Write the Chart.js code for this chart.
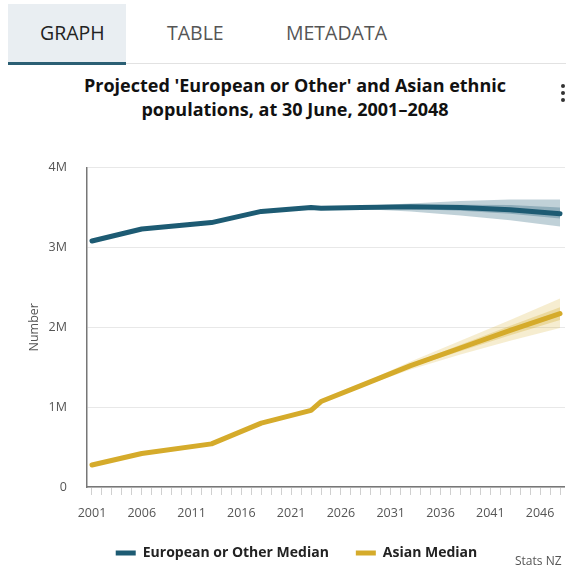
<!DOCTYPE html>
<html>
<head>
<meta charset="utf-8">
<script src="https://cdn.jsdelivr.net/npm/chart.js@4"></script>
<style>
  html, body { margin: 0; padding: 0; background: #fff; overflow: hidden; }
  body { width: 566px; height: 568px; position: relative; font-family: "Open Sans", sans-serif; }
  .tab { position: absolute; top: 4px; height: 58px; line-height: 58px; font-size: 19.5px; color: #555; }
  .tab.active { left: 8px; width: 86px; padding-left: 32px; background: #e9eef2; color: #222; border-bottom: 3px solid #2b5f74; }
  .sep { position: absolute; left: 126px; right: 0; top: 63px; height: 1px; background: #e2e2e2; }
  h1 { position: absolute; top: 73px; left: 0; width: 566px; margin: 0; text-align: center;
       font-size: 18px; font-weight: bold; line-height: 24px; color: #111; padding-left: 24px; box-sizing: border-box; }
  .dot { position: absolute; left: 561px; width: 4px; height: 4px; border-radius: 2px; background: #333; }
  #wrap { position: absolute; left: 22px; top: 140px; width: 549px; height: 430px; }
  .src { position: absolute; left: 515px; top: 552px; font-size: 12px; color: #555; white-space: nowrap; }
</style>
</head>
<body>
<div class="tab active">GRAPH</div>
<div class="tab" style="left:167px">TABLE</div>
<div class="tab" style="left:286px">METADATA</div>
<div class="sep"></div>
<h1>Projected 'European or Other' and Asian ethnic<br>populations, at 30 June, 2001–2048</h1>
<div class="dot" style="top:84px"></div>
<div class="dot" style="top:91px"></div>
<div class="dot" style="top:98px"></div>
<div id="wrap"><canvas id="myChart"></canvas></div>
<div class="src">Stats NZ</div>
<script>
// years on the axis
var years = []
for (var y = 2001; y <= 2048; y++) years.push(String(y))

// median series (millions)
var medianYears = [2001, 2006, 2013, 2018, 2023, 2024, 2028, 2033, 2038, 2043, 2048]
var europeanMedian = [3.08, 3.23, 3.31, 3.45, 3.50, 3.49, 3.50, 3.51, 3.50, 3.47, 3.42]
var asianMedian = [0.275, 0.42, 0.54, 0.80, 0.96, 1.07, 1.27, 1.52, 1.74, 1.96, 2.17]

// projection intervals (millions)
var bandYears = [2024, 2028, 2033, 2038, 2043, 2048]
var europeanOuterHi = [3.49, 3.52, 3.55, 3.58, 3.60, 3.60]
var europeanOuterLo = [3.49, 3.48, 3.45, 3.40, 3.34, 3.26]
var europeanInnerHi = [3.49, 3.51, 3.53, 3.535, 3.53, 3.50]
var europeanInnerLo = [3.49, 3.49, 3.48, 3.46, 3.42, 3.36]
var asianOuterHi = [1.07, 1.29, 1.57, 1.83, 2.09, 2.36]
var asianOuterLo = [1.07, 1.25, 1.47, 1.66, 1.83, 1.99]
var asianInnerHi = [1.07, 1.28, 1.54, 1.78, 2.02, 2.25]
var asianInnerLo = [1.07, 1.26, 1.50, 1.70, 1.90, 2.09]

var euroColor = '#1d5b73'
var asianColor = '#d5ab2b'

function pts(xs, vals) {
    return xs.map(function (x, i) { return { x: String(x), y: vals[i] * 1e6 } })
}

function median(label, vals, color) {
    return {
        label: label, data: pts(medianYears, vals), borderColor: color, backgroundColor: color,
        borderWidth: 5, borderCapStyle: 'round', borderJoinStyle: 'round',
        pointRadius: 0, fill: false, order: 0
    }
}

function band(vals, fillTo, color, order) {
    return {
        label: '', data: pts(bandYears, vals), borderWidth: 0, pointRadius: 0,
        backgroundColor: color, fill: fillTo, order: order
    }
}

Chart.defaults.font.family = '"Open Sans", sans-serif'
Chart.defaults.color = '#555'

var ctx = document.getElementById('myChart')
var myChart = new Chart(ctx, {
    type: 'line',
    data: {
        labels: years,
        datasets: [
            median('European or Other Median', europeanMedian, euroColor),
            median('Asian Median', asianMedian, asianColor),
            band(europeanOuterHi, 3, 'rgba(29,91,115,0.28)', 2),
            band(europeanOuterLo, false, 'rgba(0,0,0,0)', 2),
            band(europeanInnerHi, 5, 'rgba(29,91,115,0.30)', 1),
            band(europeanInnerLo, false, 'rgba(0,0,0,0)', 1),
            band(asianOuterHi, 7, 'rgba(213,171,43,0.22)', 2),
            band(asianOuterLo, false, 'rgba(0,0,0,0)', 2),
            band(asianInnerHi, 9, 'rgba(213,171,43,0.30)', 1),
            band(asianInnerLo, false, 'rgba(0,0,0,0)', 1)
        ]
    },
    options: {
        responsive: true,
        maintainAspectRatio: false,
        animation: false,
        layout: { padding: { top: 24, right: 0, bottom: 0, left: 0 } },
        scales: {
            x: {
                offset: true,
                grid: { drawOnChartArea: false, offset: false, tickLength: 8, color: '#cfcfcf' },
                border: { color: '#777', width: 1.5 },
                ticks: {
                    autoSkip: false, maxRotation: 0, padding: 11, font: { size: 12.5 },
                    callback: function (v, i) { return i % 5 === 0 ? years[i] : '' }
                },
                afterFit: function (s) { s.height = 32 }
            },
            y: {
                min: 0, max: 4e6,
                grid: { color: '#e8e8e8', drawTicks: false },
                border: { color: '#777', width: 1.5 },
                ticks: {
                    stepSize: 1e6, padding: 20, font: { size: 12.5 },
                    callback: function (v) { return v === 0 ? '0' : (v / 1e6) + 'M' }
                },
                title: { display: true, text: 'Number', font: { size: 12.5 }, padding: { top: 5 } },
                afterFit: function (s) { s.width = 65 }
            }
        },
        plugins: {
            tooltip: { enabled: false },
            legend: {
                position: 'bottom',
                labels: {
                    usePointStyle: true, pointStyle: 'line', pointStyleWidth: 20, boxWidth: 20,
                    padding: 27, color: '#222', font: { size: 14, weight: 'bold' },
                    filter: function (item) { return item.datasetIndex < 2 }
                }
            }
        }
    }
})
</script>
</body>
</html>
